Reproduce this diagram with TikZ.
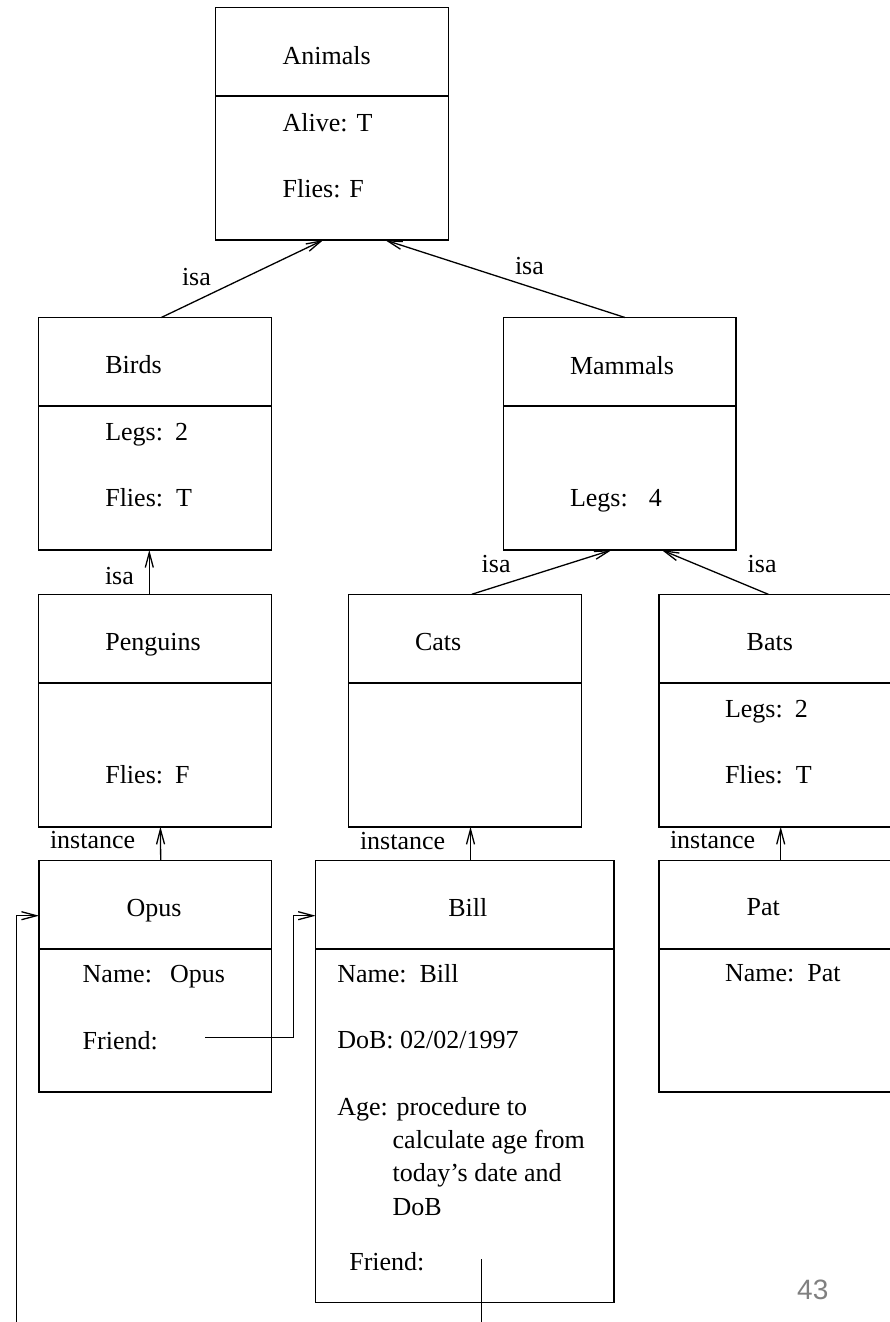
\documentclass[tikz,border=0pt]{standalone}
\usepackage{fontspec}
\setmainfont{Liberation Serif}
\newfontfamily\numfont{Liberation Sans}
\usetikzlibrary{arrows.meta,calc}
\newcommand{\gp}[1]{\hspace{#1pt}}
\tikzset{
  frame/.style={draw, line width=1.4pt, anchor=north west, inner sep=0pt, outer sep=0pt,
    minimum width=232.5pt, minimum height=232.5pt},
  txt/.style={anchor=base west, inner sep=0pt, outer sep=0pt, font=\fontsize{26}{33}\selectfont},
  rule/.style={line width=1.4pt},
  link/.style={line width=1.3pt, -{Straight Barb[length=15pt,width=8pt,line width=1.3pt]}},
  wire/.style={line width=1.3pt}
}
\begin{document}
\begin{tikzpicture}[x=1pt,y=-1pt]
\useasboundingbox (0,0) rectangle (890,1322);
\clip (0,0) rectangle (890,1322);

% frames
\node[frame] (animals)  at (215.7,7.5) {};
\node[frame] (birds)    at (38.7,317.5) {};
\node[frame] (mammals)  at (503.5,317.5) {};
\node[frame] (penguins) at (38.7,594.3) {};
\node[frame] (cats)     at (348.7,594.3) {};
\node[frame] (bats)     at (659,594.3) {};
\node[frame, minimum height=231.5pt] (opus) at (39,860.5) {};
\node[frame, minimum width=298.3pt, minimum height=442.4pt] (bill) at (315.7,860.3) {};
\node[frame, minimum height=231.5pt] (pat)  at (659,860.5) {};

\foreach \n in {animals,birds,mammals,penguins,cats,bats,opus,bill,pat}
  \draw[rule] ($(\n.north west)+(0,88.6)$) -- ($(\n.north east)+(0,88.6)$);

% texts
\node[txt] (tAnimals) at (282.7,64.5) {Animals};
\node[txt] (tAlive)   at (282.7,131.5) {Alive:\gp{9}T};
\node[txt] (tAflies)  at (282.7,197) {Flies:\gp{9}F};

\node[txt] (tBirds)   at (105.3,373.5) {Birds};
\node[txt] (tBlegs)   at (105.3,440.7) {Legs:\gp{12}2};
\node[txt] (tBflies)  at (105.3,506.7) {Flies:\gp{13}T};

\node[txt] (tMammals) at (570,374) {Mammals};
\node[txt] (tMlegs)   at (570,506.7) {Legs:\gp{21}4};

\node[txt] (tPenguins) at (105.3,650.7) {Penguins};
\node[txt] (tPflies)   at (105.3,783.3) {Flies:\gp{12}F};

\node[txt] (tCats) at (415,650.7) {Cats};

\node[txt] (tBats)   at (746.7,650.7) {Bats};
\node[txt] (tBtlegs) at (725,717.3) {Legs:\gp{12}2};
\node[txt] (tBtflies) at (725,783.3) {Flies:\gp{13}T};

\node[txt] (tOpus)   at (126.7,916) {Opus};
\node[txt] (tOname)  at (82.7,982.7) {Name:\gp{18}Opus};
\node[txt] (tOfriend) at (82.7,1049) {Friend:};

\node[txt] (tBill)   at (448.3,916) {Bill};
\node[txt] (tBname)  at (337.3,982.3) {Name:\gp{13}Bill};
\node[txt] (tBdob)   at (337.3,1048.3) {DoB: 02/02/1997};
\node[txt] (tBage1)  at (337.3,1115.7) {Age: procedure to};
\node[txt] (tBage2)  at (392.7,1148.3) {calculate age from};
\node[txt] (tBage3)  at (392.7,1181.7) {today's date and};
\node[txt] (tBage4)  at (392.7,1215) {DoB};
\node[txt] (tBfriend) at (349.3,1270) {Friend:};

\node[txt] (tPat)   at (746.7,915) {Pat};
\node[txt] (tPname) at (725,981.7) {Name:\gp{13}Pat};

% link labels
\node[txt] (l1) at (182,285) {isa};
\node[txt] (l2) at (515,274) {isa};
\node[txt] (l3) at (105,584) {isa};
\node[txt] (l4) at (481.7,572) {isa};
\node[txt] (l5) at (747.7,572) {isa};
\node[txt] (l6) at (50,848.5) {instance};
\node[txt] (l7) at (360,849) {instance};
\node[txt] (l8) at (670,848.5) {instance};

% links
\draw[link] ($(birds.north west)+(122.6,0)$) -- ($(animals.south west)+(107.6,0)$);
\draw[link] ($(mammals.north west)+(121.5,0)$) -- ($(animals.south west)+(169.3,0)$);
\draw[link] ($(penguins.north west)+(110.6,0)$) -- ($(birds.south west)+(110.6,0)$);
\draw[link] ($(cats.north west)+(123,0)$) -- ($(mammals.south west)+(108.2,0)$);
\draw[link] ($(bats.north west)+(109.3,0)$) -- ($(mammals.south west)+(158.2,0)$);
\draw[link] ($(opus.north west)+(121.7,0)$) -- ($(penguins.south west)+(121.7,0)$);
\draw[link] ($(bill.north west)+(154.8,0)$) -- ($(cats.south west)+(121.8,0)$);
\draw[link] ($(pat.north west)+(121.7,0)$) -- ($(bats.south west)+(121.7,0)$);

% friend pointers
\coordinate (opusfriend) at (205,1037.7);
\coordinate (billfriend) at ($(bill.north west)+(166,399)$);
\draw[link] (opusfriend) -- ++(88.3,0) |- ($(bill.north west)+(0,55.4)$);
\draw[link] (billfriend) -- ++(0,90) -| (16.7,1000) |- ($(opus.north west)+(0,55.2)$);

% page number
\node[anchor=base west, inner sep=0pt, font=\numfont\fontsize{28}{28}\selectfont, text=black!50] (pagenum) at (797,1299) {43};
\end{tikzpicture}
\end{document}
